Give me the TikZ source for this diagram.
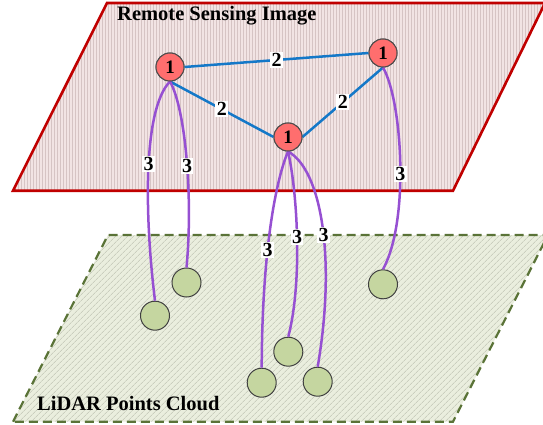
\documentclass[tikz,border=0pt]{standalone}
\usepackage{fontspec}
\setmainfont{Liberation Serif}
\usetikzlibrary{patterns.meta}
\definecolor{topfill}{RGB}{242,228,228}
\definecolor{topstripe}{RGB}{214,196,196}
\definecolor{topborder}{RGB}{192,0,0}
\definecolor{botfill}{RGB}{234,238,222}
\definecolor{botstripe}{RGB}{186,190,174}
\definecolor{botborder}{RGB}{90,115,55}
\definecolor{rednode}{RGB}{255,110,110}
\definecolor{greennode}{RGB}{197,214,160}
\definecolor{blueedge}{RGB}{20,120,200}
\definecolor{purpleedge}{RGB}{150,80,210}
\begin{document}
\begin{tikzpicture}[x=1pt,y=-1pt,
  rnode/.style={circle,minimum size=28pt,inner sep=0pt,fill=rednode,draw=black!70,line width=1pt,font=\bfseries\fontsize{19}{19}\selectfont},
  gnode/.style={circle,minimum size=29pt,inner sep=0pt,fill=greennode,draw=black!75,line width=1pt},
  lbl/.style={fill=white,inner sep=1.3pt,font=\bfseries\fontsize{20}{20}\selectfont},
  blueline/.style={draw=blueedge,line width=2.5pt},
  purpleline/.style={draw=purpleedge,line width=2.5pt},
  title/.style={font=\bfseries\fontsize{20.5}{22}\selectfont,anchor=west,inner sep=0pt}]
\useasboundingbox (0,0) rectangle (543,425);
% planes
\path[draw=botborder,line width=2.2pt,dash pattern=on 9pt off 5pt,
  preaction={fill=botfill},
  pattern={Lines[angle=45,distance=4pt,line width=0.6pt]},pattern color=botstripe]
  (13,421.7) -- (108,235) -- (548,235) -- (453,421.7) -- cycle;
\path[draw=topborder,line width=2.6pt,
  preaction={fill=topfill},
  pattern={Lines[angle=90,distance=3pt,line width=0.35pt]},pattern color=topstripe]
  (13,190.7) -- (107,3) -- (545,3) -- (453,190.7) -- cycle;
\node[title] (t1) at (117,16) {Remote Sensing Image};
\node[title] (t2) at (37,404) {LiDAR Points Cloud};
% nodes
\node[rnode] (A) at (170,67) {1};
\node[rnode] (B) at (383,53) {1};
\node[rnode] (C) at (288,137) {1};
\node[gnode] (G1) at (155,315.7) {};
\node[gnode] (G2) at (186.5,282.5) {};
\node[gnode] (G3) at (261.7,382.7) {};
\node[gnode] (G4) at (288.3,351.7) {};
\node[gnode] (G5) at (317.7,381.7) {};
\node[gnode] (G6) at (383,284.3) {};
% blue edges
\draw[blueline] (A.east) -- node[lbl] {2} (B.west);
\draw[blueline] (A.south) -- node[lbl] {2} (C.west);
\draw[blueline] (C.east) -- node[lbl] {2} (B.south);
% purple curves
\draw[purpleline] (A.south) .. controls (142,110) and (145,220) .. node[lbl,pos=0.47] {3} (G1.north);
\draw[purpleline] (A.south) .. controls (186,110) and (193,200) .. node[lbl,pos=0.53] {3} (G2.north);
\draw[purpleline] (C.south) .. controls (274,185) and (262,260) .. node[lbl,pos=0.58] {3} (G3.north);
\draw[purpleline] (C.south) .. controls (297,190) and (303,280) .. node[lbl,pos=0.5] {3} (G4.north);
\draw[purpleline] (C.south) .. controls (322,170) and (336,260) .. node[lbl,pos=0.54] {3} (G5.north);
\draw[purpleline] (B.south) .. controls (402,100) and (410,220) .. node[lbl,pos=0.55] {3} (G6.north);
% redraw nodes on top
\node[rnode] at (A) {1};
\node[rnode] at (B) {1};
\node[rnode] at (C) {1};
\end{tikzpicture}
\end{document}
